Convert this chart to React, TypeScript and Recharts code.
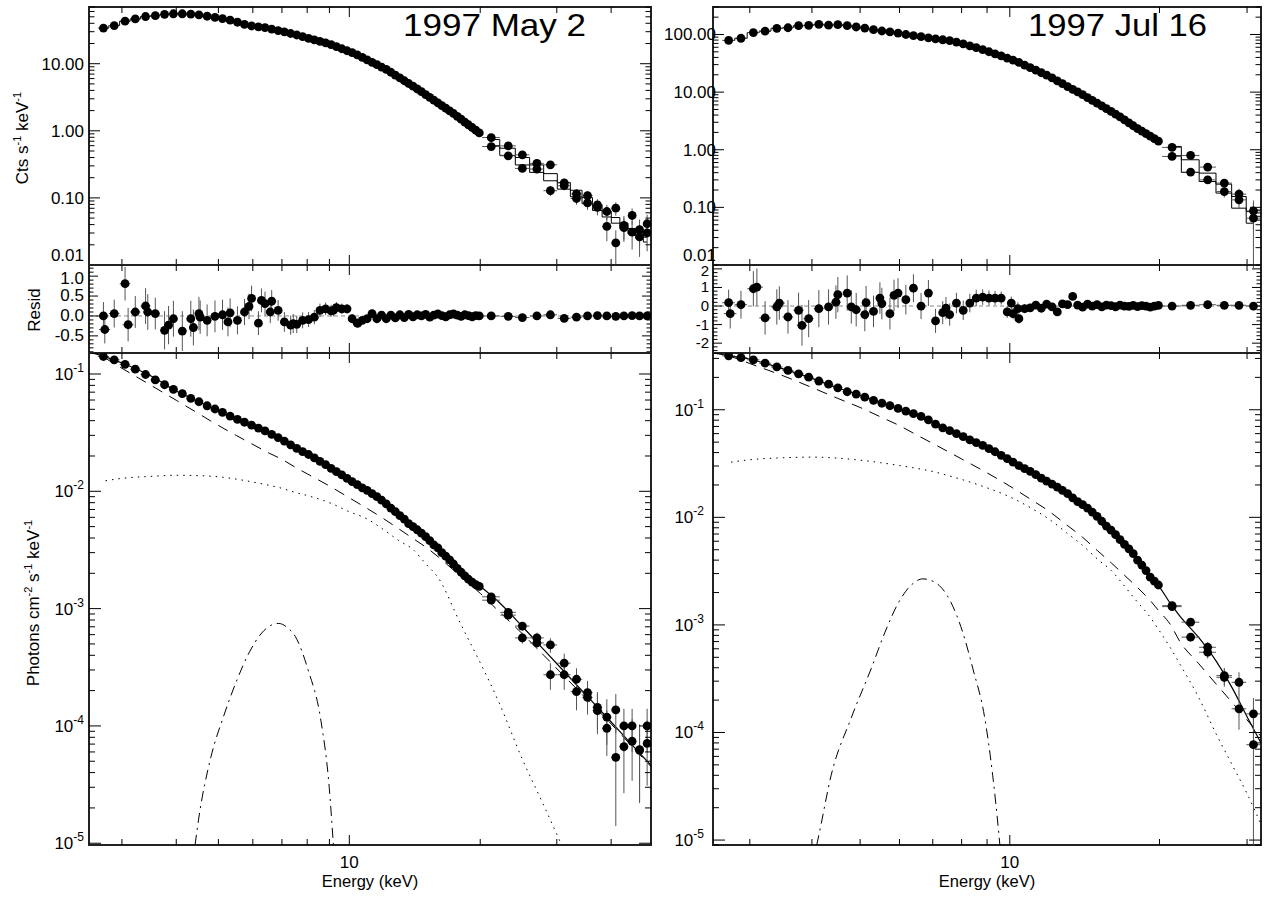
import React from "react";
import { ComposedChart, Scatter, Line, XAxis, YAxis, ErrorBar, ReferenceLine } from "recharts";

// PCA channel energies (keV), same binning for both observations
const PCA_E = [2.72, 2.88, 3.05, 3.22, 3.40, 3.58, 3.76, 3.94, 4.13, 4.32, 4.51, 4.71, 4.91, 5.11, 5.32, 5.53, 5.74, 5.96, 6.18, 6.40, 6.63, 6.86, 7.09, 7.33, 7.57, 7.81, 8.06, 8.31, 8.56, 8.82, 9.08, 9.34, 9.61, 9.88, 10.15, 10.43, 10.71, 10.99, 11.28, 11.57, 11.86, 12.16, 12.46, 12.76, 13.07, 13.38, 13.69, 14.01, 14.33, 14.65, 14.98, 15.31, 15.64, 15.98, 16.32, 16.66, 17.01, 17.36, 17.71, 18.07, 18.43, 18.79, 19.16, 19.53, 19.90];

// ---- 1997 May 2 ----
const CNT_L = [34, 37, 43, 46.5, 50.5, 52, 54.5, 55.5, 55.5, 55, 53.5, 51, 49, 47, 44.5, 41.5, 38.5, 36.5, 35.5, 34.5, 32.8, 31.2, 29.8, 28.2, 26.8, 25.3, 23.8, 22.6, 21.5, 20.4, 19.2, 18.0, 16.7, 15.6, 14.6, 13.5, 12.4, 11.4, 10.5, 9.66, 8.91, 8.24, 7.46, 6.77, 6.13, 5.57, 5.07, 4.62, 4.20, 3.84, 3.47, 3.15, 2.87, 2.61, 2.38, 2.17, 1.98, 1.81, 1.645, 1.49, 1.35, 1.23, 1.12, 1.02, 0.93];
const RES_L = [0, 0.06, 0.81, 0.10, 0.25, 0.06, -0.36, -0.07, -0.38, -0.07, 0.06, -0.11, -0.01, 0.03, 0.08, -0.11, 0.10, 0.44, -0.18, 0.31, 0.37, 0.14, -0.15, -0.23, -0.21, -0.11, -0.09, -0.03, 0.14, 0.18, 0.13, 0.21, 0.18, 0.18, -0.07, -0.18, -0.11, -0.07, 0.06, -0.07, 0.02, -0.07, 0.02, -0.05, 0.03, -0.04, 0.04, -0.02, 0.03, 0, 0.04, -0.03, 0.02, 0.05, 0.01, -0.02, 0.03, 0.05, 0.02, -0.01, 0.03, 0.01, -0.02, 0.01, 0];
const RES_ERR_L = [0.35, 0.35, 0.42, 0.40, 0.45, 0.40, 0.48, 0.45, 0.50, 0.45, 0.42, 0.40, 0.40, 0.38, 0.36, 0.35, 0.33, 0.32, 0.30, 0.30, 0.28, 0.26, 0.25, 0.24, 0.22, 0.20, 0.19, 0.18, 0.17, 0.16, 0.15, 0.14, 0.13, 0.12, 0.11, 0.10, 0.09, 0.09, 0.08, 0.08, 0.07, 0.07, 0.06, 0.06, 0.06, 0.05, 0.05, 0.05, 0.05, 0.04, 0.04, 0.04, 0.04, 0.04, 0.04, 0.04, 0.03, 0.03, 0.03, 0.03, 0.03, 0.03, 0.03, 0.03, 0.03];
const RX_E_L = [2.74, 3.10, 3.44, 3.84, 4.38, 4.54, 5.26, 5.88, 6.28, 6.58, 7.43, 9.19, 10.46];
const RX_L = [-0.34, -0.22, 0.10, -0.23, -0.29, -0.03, -0.15, 0.24, 0.39, 0.10, -0.19, 0.14, -0.18];
const RX_ERR_L = [0.35, 0.42, 0.45, 0.48, 0.45, 0.42, 0.36, 0.32, 0.30, 0.28, 0.24, 0.15, 0.10];
const RX_EX_L = [0.08, 0.09, 0.09, 0.09, 0.1, 0.1, 0.1, 0.11, 0.11, 0.11, 0.12, 0.13, 0.14];
const FLX_L = [0.141, 0.132, 0.121, 0.110, 0.099, 0.089, 0.081, 0.074, 0.068, 0.062, 0.058, 0.0536, 0.0503, 0.047, 0.0438, 0.041, 0.0388, 0.0366, 0.0346, 0.0327, 0.0306, 0.0287, 0.0268, 0.0249, 0.0232, 0.0218, 0.0206, 0.0193, 0.0180, 0.0169, 0.0157, 0.0147, 0.0138, 0.0129, 0.0121, 0.0114, 0.0107, 0.0102, 0.00955, 0.0090, 0.0084, 0.0078, 0.0072, 0.0067, 0.0062, 0.0058, 0.0053, 0.0050, 0.0047, 0.0044, 0.0041, 0.0038, 0.0035, 0.0033, 0.0030, 0.0028, 0.0026, 0.0024, 0.0022, 0.00205, 0.0019, 0.00178, 0.00168, 0.0016, 0.00155];

const HX_E_L = [21.2, 23.2, 25.0, 27.0, 29.0, 31.2, 33.3, 35.3, 37.2, 39.1, 41.0, 42.8, 44.7, 46.5, 48.4];
const HX_CA_L = [0.793, 0.596, 0.438, 0.327, 0.311, 0.167, 0.1146, 0.108, 0.0787, 0.0627, 0.0703, 0.0389, 0.0547, 0.0336, 0.0412];
const HX_CB_L = [0.583, 0.424, 0.275, 0.269, 0.128, 0.152, 0.098, 0.0843, 0.072, 0.0376, 0.0213, 0.036, 0.031, 0.0262, 0.030];
const HX_CAE_L = [0.04, 0.035, 0.03, 0.028, 0.027, 0.022, 0.02, 0.019, 0.017, 0.016, 0.016, 0.015, 0.015, 0.014, 0.015];
const HX_CBE_L = [0.035, 0.03, 0.027, 0.026, 0.022, 0.022, 0.019, 0.018, 0.017, 0.015, 0.0115, 0.014, 0.014, 0.013, 0.014];
const HX_MA_L = [0.74, 0.55, 0.40, 0.31, 0.23, 0.17, 0.130, 0.101, 0.079, 0.063, 0.051, 0.042, 0.035, 0.030, 0.026];
const HX_MB_L = [0.60, 0.43, 0.31, 0.24, 0.18, 0.135, 0.104, 0.082, 0.065, 0.052, 0.042, 0.035, 0.029, 0.025, 0.022];
const HX_RES_L = [0, -0.01, -0.04, 0, 0.03, -0.06, -0.03, 0, 0.01, 0, -0.01, 0, 0.01, 0, 0];
const HX_RESE_L = [0.04, 0.04, 0.04, 0.04, 0.04, 0.04, 0.04, 0.04, 0.04, 0.04, 0.04, 0.04, 0.04, 0.04, 0.04];
const HX_FA_L = [0.00126, 0.00093, 0.00071, 0.000563, 0.00049, 0.000343, 0.00025, 0.000192, 0.000144, 0.000119, 0.000137, 0.0001, 0.0001, 0.0000628, 0.0001];
const HX_FB_L = [0.00118, 0.00088, 0.000563, 0.00051, 0.000273, 0.000273, 0.000196, 0.000175, 0.000135, 0.0000955, 0.000054, 0.0000667, 0.000074, 0.000062, 0.000071];
const HX_FAE_L = [0.00006, 0.00006, 0.00006, 0.00006, 0.00007, 0.00007, 0.00006, 0.00005, 0.00005, 0.00005, 0.00005, 0.00004, 0.00004, 0.00004, 0.00004];
const HX_FBE_L = [0.00006, 0.00006, 0.00006, 0.00006, 0.00007, 0.00007, 0.00006, 0.00005, 0.00005, 0.00004, 0.00004, 0.00004, 0.00004, 0.00004, 0.00004];

const MOD_E_L = [2.5, 2.75, 3, 3.5, 4, 4.5, 5, 5.5, 6, 6.5, 7, 7.5, 8, 9, 10, 11, 12, 13, 14, 15, 16, 18, 20, 22, 25, 28, 31, 35, 40, 45, 50];
const TOT_L = [0.155, 0.140, 0.124, 0.096, 0.0715, 0.0582, 0.0485, 0.0414, 0.0363, 0.0318, 0.0276, 0.0236, 0.0207, 0.016, 0.0125, 0.0102, 0.008, 0.0063, 0.005, 0.0041, 0.0032, 0.00215, 0.00155, 0.00115, 0.000704, 0.000447, 0.000298, 0.000184, 0.000108, 0.000067, 0.000044];
const PL_L = [0.168, 0.136, 0.112, 0.08, 0.0597, 0.046, 0.0364, 0.0299, 0.0251, 0.0214, 0.0187, 0.0161, 0.0141, 0.0111, 0.0088, 0.00713, 0.00583, 0.00478, 0.00397, 0.00334, 0.00277, 0.00189, 0.00135, 0.00096, 0.00061, 0.0004, 0.000272, 0.000172, 0.000104, 0.000065, 0.000043];
const BB_L = [null, 0.0123, 0.0129, 0.0134, 0.0137, 0.0136, 0.0133, 0.0127, 0.012, 0.0113, 0.0106, 0.0098, 0.0092, 0.008, 0.0067, 0.0058, 0.0047, 0.0038, 0.0032, 0.0024, 0.00184, 0.00075, 0.000346, 0.000164, 0.000052, 0.000021, 0.0000091, null, null, null, null];
const GA_E_L = [4.42, 4.5, 4.81, 5.14, 5.5, 5.88, 6.29, 6.6, 6.88, 7.2, 7.51, 8.04, 8.6, 8.99, 9.19];
const GA_L = [0.0000097, 0.0000158, 0.000055, 0.000121, 0.00024, 0.00042, 0.00062, 0.00072, 0.000748, 0.00069, 0.00058, 0.0003, 0.000112, 0.00003, 0.0000097];

// ---- 1997 Jul 16 ----
const CNT_R = [79, 86, 108, 114, 128, 131, 142, 144, 150, 145, 148, 142, 135, 129, 121, 115, 111, 106, 100, 95.5, 91.5, 87.5, 84, 81, 78, 74, 69, 63.5, 59, 54.8, 50.2, 46.2, 42.4, 39.0, 36.0, 32.7, 29.5, 26.6, 24.0, 21.7, 19.7, 17.6, 15.7, 14.0, 12.5, 11.2, 10.1, 9.03, 8.04, 7.20, 6.43, 5.75, 5.16, 4.63, 4.16, 3.71, 3.29, 2.93, 2.61, 2.33, 2.11, 1.91, 1.72, 1.56, 1.41];
const RES_R = [0.18, 0.07, 0.93, -0.64, -0.05, -0.59, -0.23, -0.68, -0.14, -0.05, 0.61, 0.70, -0.2, -0.46, -0.29, 0.13, -0.41, 0.70, 0.34, 0.96, 0, 0.70, -0.80, -0.36, -0.46, 0.16, -0.23, 0.16, 0.43, 0.48, 0.43, 0.43, 0.43, -0.32, -0.41, -0.68, -0.14, -0.10, 0.05, -0.12, 0.10, -0.05, -0.32, 0.12, 0.08, 0.52, 0.05, -0.06, 0.10, 0, 0.08, -0.05, 0.05, 0.02, -0.04, 0.05, 0, -0.02, 0.03, -0.03, 0.02, -0.01, -0.06, 0, 0.03];
const RES_ERR_R = [0.7, 0.75, 0.95, 0.9, 0.95, 0.9, 0.95, 1.0, 1.0, 0.95, 0.95, 0.95, 0.9, 0.9, 0.85, 0.85, 0.85, 0.8, 0.8, 0.75, 0.7, 0.7, 0.65, 0.62, 0.6, 0.55, 0.52, 0.5, 0.45, 0.42, 0.4, 0.38, 0.35, 0.32, 0.3, 0.28, 0.25, 0.22, 0.2, 0.18, 0.16, 0.15, 0.14, 0.13, 0.12, 0.11, 0.1, 0.1, 0.09, 0.09, 0.08, 0.08, 0.07, 0.07, 0.07, 0.06, 0.06, 0.06, 0.06, 0.05, 0.05, 0.05, 0.05, 0.05, 0.05];
const RX_E_R = [2.74, 3.10, 3.44, 3.82, 4.47, 4.80, 5.14, 5.48, 5.85, 7.44, 10.07, 10.38];
const RX_R = [-0.41, 1.02, 0.16, -1.04, 0.21, -0.05, 0.18, 0.43, 0.57, -0.11, 0.16, -0.14];
const RX_ERR_R = [0.8, 1.0, 0.9, 1.1, 0.9, 0.9, 0.9, 0.85, 0.85, 0.6, 0.35, 0.35];
const RX_EX_R = [0.08, 0.09, 0.09, 0.09, 0.1, 0.1, 0.1, 0.1, 0.11, 0.12, 0.14, 0.14];
const FLX_R = [0.317, 0.305, 0.291, 0.271, 0.250, 0.232, 0.216, 0.201, 0.185, 0.173, 0.160, 0.147, 0.140, 0.131, 0.1225, 0.115, 0.109, 0.103, 0.097, 0.092, 0.0868, 0.0805, 0.0735, 0.068, 0.064, 0.060, 0.0562, 0.0525, 0.0495, 0.0466, 0.0435, 0.0407, 0.0377, 0.0352, 0.0326, 0.0303, 0.0284, 0.0268, 0.0249, 0.0231, 0.0217, 0.0204, 0.0191, 0.0178, 0.0166, 0.0152, 0.0140, 0.0131, 0.0122, 0.0112, 0.0102, 0.0092, 0.0083, 0.0076, 0.0069, 0.0062, 0.0056, 0.0051, 0.0046, 0.0040, 0.0036, 0.0032, 0.00278, 0.00255, 0.00235];

const HX_E_R = [21.2, 23.1, 25.0, 27.0, 28.9, 30.9];
const HX_CA_R = [1.097, 0.796, 0.50, 0.264, 0.170, 0.0869];
const HX_CB_R = [0.765, 0.409, 0.30, 0.188, 0.135, 0.0649];
const HX_CAE_R = [0.06, 0.05, 0.045, 0.04, 0.04, 0.045];
const HX_CBE_R = [0.055, 0.045, 0.04, 0.04, 0.04, 0.056];
const HX_MA_R = [1.14, 0.67, 0.393, 0.253, 0.154, 0.0845];
const HX_MB_R = [0.787, 0.403, 0.281, 0.177, 0.0969, 0.0531];
const HX_RES_R = [0, 0.04, 0.07, 0.04, 0.04, 0];
const HX_RESE_R = [0.08, 0.08, 0.08, 0.08, 0.08, 0.08];
const HX_FA_R = [0.00151, 0.00106, 0.00062, 0.000338, 0.000293, 0.000149];
const HX_FB_R = [0.00148, 0.00077, 0.000557, 0.000326, 0.000166, 0.000077];
const HX_FAE_R = [0.00008, 0.00007, 0.00007, 0.00006, 0.00007, 0.00006];
const HX_FBE_R = [0.00008, 0.00007, 0.00007, 0.00006, 0.00006, 0.000068];

const MOD_E_R = [2.5, 2.75, 3, 3.5, 4, 4.5, 5, 5.5, 6, 6.5, 7, 7.5, 8, 9, 10, 11, 12, 13, 14, 15, 16, 17, 18, 19, 20, 21, 22, 24, 26, 28, 30, 32];
const TOT_R = [0.34, 0.316, 0.295, 0.24, 0.196, 0.16, 0.136, 0.116, 0.102, 0.0897, 0.076, 0.065, 0.057, 0.0445, 0.034, 0.0267, 0.0209, 0.0169, 0.0131, 0.0101, 0.0076, 0.0056, 0.0041, 0.0029, 0.00225, 0.0016, 0.0012, 0.00076, 0.00046, 0.00026, 0.00014, 0.00008];
const PL_R = [0.369, 0.313, 0.269, 0.207, 0.161, 0.128, 0.105, 0.0857, 0.0712, 0.0583, 0.0486, 0.041, 0.0349, 0.0259, 0.0195, 0.01476, 0.01137, 0.00853, 0.00654, 0.00491, 0.00377, 0.0029, 0.00226, 0.00176, 0.00133, 0.00102, 0.000696, 0.000435, 0.000282, 0.00019, 0.000131, 0.000092];
const BB_R = [null, 0.0326, 0.0343, 0.0358, 0.0363, 0.0355, 0.034, 0.0322, 0.0303, 0.0285, 0.0267, 0.0245, 0.0225, 0.0188, 0.0155, 0.0123, 0.0096, 0.0072, 0.0055, 0.0041, 0.0032, 0.0023, 0.00166, 0.00124, 0.00088, 0.00062, 0.00043, 0.00021, 0.000097, 0.00005, 0.000027, 0.000014];
const GA_E_R = [4.09, 4.14, 4.37, 4.79, 5.26, 5.61, 5.98, 6.32, 6.69, 7.06, 7.61, 8.04, 8.43, 8.91, 9.24, 9.50, 9.55];
const GA_R = [0.000009, 0.0000117, 0.0000396, 0.000134, 0.00039, 0.000855, 0.00163, 0.00232, 0.00268, 0.0025, 0.00163, 0.000855, 0.00039, 0.000134, 0.0000396, 0.0000117, 0.000009];

const FONT = "'Liberation Sans', Arial, Helvetica, sans-serif";

// half bin widths from neighbouring channel energies
const halfWidths = (e: number[]) =>
  e.map((_, i) => {
    const a = e[Math.max(i - 1, 0)];
    const b = e[Math.min(i + 1, e.length - 1)];
    return (b - a) / (i === 0 || i === e.length - 1 ? 2 : 4);
  });

const pts = (xs: number[], ys: (number | null)[], ey?: number[], ex?: number[]) =>
  xs.map((x, i) => ({ x, y: ys[i], ey: ey ? ey[i] : 0, ex: ex ? ex[i] : 0 }));

const logTicks = (lo: number, hi: number) => {
  const out: number[] = [];
  for (let p = Math.floor(Math.log10(lo)); p <= Math.ceil(Math.log10(hi)); p++) {
    for (let m = 1; m < 10; m++) {
      const v = +(m * Math.pow(10, p)).toPrecision(6);
      if (v >= lo * 0.9999 && v <= hi * 1.0001) out.push(v);
    }
  }
  return out;
};

const linTicks = (lo: number, hi: number, step: number) => {
  const out: number[] = [];
  for (let k = Math.ceil(lo / step - 1e-9); k * step <= hi + 1e-9; k++) out.push(+(k * step).toFixed(3));
  return out;
};

const isDecade = (v: number) => Math.abs(Math.log10(v) - Math.round(Math.log10(v))) < 1e-6;

const Dot = (p: any) => <circle cx={p.cx} cy={p.cy} r={4.4} fill="#000" />;

const powLabel = (v: number) => (
  <>
    <tspan>10</tspan>
    <tspan dy={-8} fontSize={12}>{String(Math.round(Math.log10(v)))}</tspan>
  </>
);

const xTick = (h: number, label: boolean) => (p: any) => {
  const { x, y, payload } = p;
  const v = payload.value;
  const M = isDecade(v);
  const L = M ? 10 : 6;
  return (
    <g>
      <line x1={x} y1={y} x2={x} y2={y - L} stroke="#000" />
      <line x1={x} y1={y - h} x2={x} y2={y - h + L} stroke="#000" />
      {label && M && (
        <text x={x} y={y + 23} textAnchor="middle" fontSize={17} fontFamily={FONT} fill="#000">
          {v}
        </text>
      )}
    </g>
  );
};

const yTick = (
  w: number,
  major: (v: number) => boolean,
  fmt: (v: number) => React.ReactNode,
  dx: number,
  len: number,
  dyOf: (v: number) => number = () => 6,
  fs = 17,
) => (p: any) => {
  const { x, y, payload } = p;
  const v = payload.value;
  const M = major(v);
  const L = M ? len : len / 2;
  return (
    <g>
      <line x1={x} y1={y} x2={x + L} y2={y} stroke="#000" />
      <line x1={x + w} y1={y} x2={x + w - L} y2={y} stroke="#000" />
      {M && (
        <text x={x + dx} y={y} dy={dyOf(v)} textAnchor="end" fontSize={fs} fontFamily={FONT} fill="#000">
          {fmt(v)}
        </text>
      )}
    </g>
  );
};

type PanelProps = {
  x: number; y: number; w: number; h: number;
  xd: number[]; yd: number[]; ylog: boolean;
  xticks: number[]; yticks: number[];
  xTickFn: any; yTickFn: any;
  children: React.ReactNode;
};

// the axes get 1px each so Recharts still draws their ticks; the chart is shifted to keep the plot box on the frame
function Panel(p: PanelProps) {
  return (
    <div style={{ position: "absolute", left: p.x, top: p.y, width: p.w, height: p.h, outline: "2px solid #222", outlineOffset: -1 }}>
      <div style={{ position: "absolute", left: -1, top: 0 }}>
        <ComposedChart width={p.w + 1} height={p.h + 1} margin={{ top: 0, right: 0, bottom: 0, left: 0 }}>
          <XAxis type="number" dataKey="x" scale="log" domain={p.xd} allowDataOverflow ticks={p.xticks} interval={0}
            tick={p.xTickFn} tickLine={false} axisLine={false} height={1} tickSize={0} tickMargin={0} />
          <YAxis type="number" dataKey="y" scale={p.ylog ? "log" : "linear"} domain={p.yd} allowDataOverflow ticks={p.yticks} interval={0}
            tick={p.yTickFn} tickLine={false} axisLine={false} width={1} tickSize={0} tickMargin={0} />
          {p.children}
        </ComposedChart>
      </div>
    </div>
  );
}

const EB = { stroke: "#555", strokeWidth: 1, width: 0 };

type Col = {
  x: number; w: number; xd: number[];
  cnt: number[]; cntD: number[]; cntDx: number;
  res: number[]; resErr: number[]; resD: number[]; resStep: number; resMajor: number; resFmt: (v: number) => string; resDx: number; resFs: number; resTopDy: number;
  rxE: number[]; rx: number[]; rxErr: number[]; rxEx: number[];
  flx: number[]; flxD: number[]; flxDx: number;
  hxE: number[]; hxCA: number[]; hxCB: number[]; hxCAE: number[]; hxCBE: number[]; hxMA: number[]; hxMB: number[];
  hxRes: number[]; hxResE: number[]; hxFA: number[]; hxFB: number[]; hxFAE: number[]; hxFBE: number[];
  modE: number[]; tot: number[]; pl: number[]; bb: (number | null)[]; gaE: number[]; ga: number[];
};

function Column({ c }: { c: Col }) {
  const xt = logTicks(c.xd[0], c.xd[1]);
  const pcaHw = halfWidths(PCA_E);
  const hxHw = halfWidths(c.hxE);
  const isMult = (v: number) => Math.abs(v / c.resMajor - Math.round(v / c.resMajor)) < 1e-6;
  const resTop = Math.floor(c.resD[1] / c.resMajor) * c.resMajor;
  return (
    <>
      <Panel x={c.x} y={7} w={c.w} h={258} xd={c.xd} yd={c.cntD} ylog xticks={xt} yticks={logTicks(c.cntD[0], c.cntD[1])}
        xTickFn={xTick(258, false)}
        yTickFn={yTick(c.w, isDecade, (v) => v.toFixed(2), c.cntDx, 11, (v) => (Math.abs(v - c.cntD[0]) < 1e-9 ? -4 : 6))}>
        <Line data={pts(PCA_E, c.cnt)} dataKey="y" type="step" stroke="#000" strokeWidth={1} dot={false} activeDot={false} isAnimationActive={false} />
        <Line data={pts(c.hxE, c.hxMA)} dataKey="y" type="step" stroke="#000" strokeWidth={1} dot={false} activeDot={false} isAnimationActive={false} />
        <Line data={pts(c.hxE, c.hxMB)} dataKey="y" type="step" stroke="#000" strokeWidth={1} dot={false} activeDot={false} isAnimationActive={false} />
        <Scatter data={pts(PCA_E, c.cnt, undefined, pcaHw)} shape={Dot} isAnimationActive={false}>
          <ErrorBar dataKey="ex" direction="x" {...EB} />
        </Scatter>
        <Scatter data={pts(c.hxE, c.hxCA, c.hxCAE, hxHw)} shape={Dot} isAnimationActive={false}>
          <ErrorBar dataKey="ey" direction="y" {...EB} />
          <ErrorBar dataKey="ex" direction="x" {...EB} />
        </Scatter>
        <Scatter data={pts(c.hxE, c.hxCB, c.hxCBE, hxHw)} shape={Dot} isAnimationActive={false}>
          <ErrorBar dataKey="ey" direction="y" {...EB} />
          <ErrorBar dataKey="ex" direction="x" {...EB} />
        </Scatter>
      </Panel>

      <Panel x={c.x} y={265} w={c.w} h={88} xd={c.xd} yd={c.resD} ylog={false} xticks={xt}
        yticks={linTicks(c.resD[0], c.resD[1], c.resStep)}
        xTickFn={xTick(88, false)}
        yTickFn={yTick(c.w, isMult, c.resFmt, c.resDx, 9, (v) => (Math.abs(v - resTop) < 1e-9 ? c.resTopDy : 5), c.resFs)}>
        <ReferenceLine y={0} stroke="#888" strokeDasharray="4 3" />
        <Scatter data={pts(PCA_E, c.res, c.resErr, pcaHw)} shape={Dot} isAnimationActive={false}>
          <ErrorBar dataKey="ey" direction="y" {...EB} />
          <ErrorBar dataKey="ex" direction="x" {...EB} />
        </Scatter>
        <Scatter data={pts(c.rxE, c.rx, c.rxErr, c.rxEx)} shape={Dot} isAnimationActive={false}>
          <ErrorBar dataKey="ey" direction="y" {...EB} />
          <ErrorBar dataKey="ex" direction="x" {...EB} />
        </Scatter>
        <Scatter data={pts(c.hxE, c.hxRes, c.hxResE, hxHw)} shape={Dot} isAnimationActive={false}>
          <ErrorBar dataKey="ey" direction="y" {...EB} />
          <ErrorBar dataKey="ex" direction="x" {...EB} />
        </Scatter>
      </Panel>

      <Panel x={c.x} y={353} w={c.w} h={492} xd={c.xd} yd={c.flxD} ylog xticks={xt} yticks={logTicks(c.flxD[0], c.flxD[1])}
        xTickFn={xTick(492, true)} yTickFn={yTick(c.w, isDecade, powLabel, c.flxDx, 12)}>
        <Line data={pts(c.modE, c.bb)} dataKey="y" type="monotone" stroke="#000" strokeWidth={1} strokeDasharray="1.5 5" dot={false} activeDot={false} isAnimationActive={false} />
        <Line data={pts(c.modE, c.pl)} dataKey="y" type="monotone" stroke="#000" strokeWidth={1} strokeDasharray="11 8" dot={false} activeDot={false} isAnimationActive={false} />
        <Line data={pts(c.gaE, c.ga)} dataKey="y" type="monotone" stroke="#000" strokeWidth={1} strokeDasharray="10 5 2 5" dot={false} activeDot={false} isAnimationActive={false} />
        <Line data={pts(c.modE, c.tot)} dataKey="y" type="monotone" stroke="#000" strokeWidth={1.2} dot={false} activeDot={false} isAnimationActive={false} />
        <Scatter data={pts(PCA_E, c.flx, undefined, pcaHw)} shape={Dot} isAnimationActive={false}>
          <ErrorBar dataKey="ex" direction="x" {...EB} />
        </Scatter>
        <Scatter data={pts(c.hxE, c.hxFA, c.hxFAE, hxHw)} shape={Dot} isAnimationActive={false}>
          <ErrorBar dataKey="ey" direction="y" {...EB} />
          <ErrorBar dataKey="ex" direction="x" {...EB} />
        </Scatter>
        <Scatter data={pts(c.hxE, c.hxFB, c.hxFBE, hxHw)} shape={Dot} isAnimationActive={false}>
          <ErrorBar dataKey="ey" direction="y" {...EB} />
          <ErrorBar dataKey="ex" direction="x" {...EB} />
        </Scatter>
      </Panel>
    </>
  );
}

const LEFT: Col = {
  x: 89, w: 562, xd: [2.52, 49.4],
  cnt: CNT_L, cntD: [0.01, 70], cntDx: -5,
  res: RES_L, resErr: RES_ERR_L, resD: [-0.93, 1.28], resStep: 0.1, resMajor: 0.5, resFmt: (v) => v.toFixed(1), resDx: -5, resFs: 17, resTopDy: 8,
  rxE: RX_E_L, rx: RX_L, rxErr: RX_ERR_L, rxEx: RX_EX_L,
  flx: FLX_L, flxD: [9.66e-6, 0.151], flxDx: -5,
  hxE: HX_E_L, hxCA: HX_CA_L, hxCB: HX_CB_L, hxCAE: HX_CAE_L, hxCBE: HX_CBE_L, hxMA: HX_MA_L, hxMB: HX_MB_L,
  hxRes: HX_RES_L, hxResE: HX_RESE_L, hxFA: HX_FA_L, hxFB: HX_FB_L, hxFAE: HX_FAE_L, hxFBE: HX_FBE_L,
  modE: MOD_E_L, tot: TOT_L, pl: PL_L, bb: BB_L, gaE: GA_E_L, ga: GA_L,
};

const RIGHT: Col = {
  x: 713, w: 548, xd: [2.53, 32.0],
  cnt: CNT_R, cntD: [0.01, 300], cntDx: 3,
  res: RES_R, resErr: RES_ERR_R, resD: [-2.53, 2.21], resStep: 0.2, resMajor: 1, resFmt: (v) => String(v), resDx: -4, resFs: 15, resTopDy: 7,
  rxE: RX_E_R, rx: RX_R, rxErr: RX_ERR_R, rxEx: RX_EX_R,
  flx: FLX_R, flxD: [9e-6, 0.337], flxDx: -9,
  hxE: HX_E_R, hxCA: HX_CA_R, hxCB: HX_CB_R, hxCAE: HX_CAE_R, hxCBE: HX_CBE_R, hxMA: HX_MA_R, hxMB: HX_MB_R,
  hxRes: HX_RES_R, hxResE: HX_RESE_R, hxFA: HX_FA_R, hxFB: HX_FB_R, hxFAE: HX_FAE_R, hxFBE: HX_FBE_R,
  modE: MOD_E_R, tot: TOT_R, pl: PL_R, bb: BB_R, gaE: GA_E_R, ga: GA_R,
};

const sup = (s: string) => (
  <>
    <tspan dy={-7} fontSize={11}>{s}</tspan>
    <tspan dy={7}> </tspan>
  </>
);

export default function App() {
  return (
    <div style={{ position: "absolute", left: 0, top: 0, width: 1264, height: 898, background: "#fff", fontFamily: FONT }}>
      <style>{`.recharts-surface{overflow:visible}`}</style>
      <Column c={LEFT} />
      <Column c={RIGHT} />
      <svg width={1264} height={898} style={{ position: "absolute", left: 0, top: 0, pointerEvents: "none" }} fontFamily={FONT}>
        <text x={403} y={36} fontSize={32} textLength={183} lengthAdjust="spacingAndGlyphs">1997 May 2</text>
        <text x={1028} y={36} fontSize={32} textLength={179} lengthAdjust="spacingAndGlyphs">1997 Jul 16</text>
        <text transform="translate(28,138) rotate(-90)" textAnchor="middle" fontSize={17}>
          Cts s{sup("-1")}keV<tspan dy={-7} fontSize={11}>-1</tspan>
        </text>
        <text transform="translate(40,310) rotate(-90)" textAnchor="middle" fontSize={17}>Resid</text>
        <text transform="translate(39,603) rotate(-90)" textAnchor="middle" fontSize={17}>
          Photons cm{sup("-2")}s{sup("-1")}keV<tspan dy={-7} fontSize={11}>-1</tspan>
        </text>
        <text x={370} y={887} textAnchor="middle" fontSize={16.5}>Energy (keV)</text>
        <text x={987} y={887} textAnchor="middle" fontSize={16.5}>Energy (keV)</text>
      </svg>
    </div>
  );
}
